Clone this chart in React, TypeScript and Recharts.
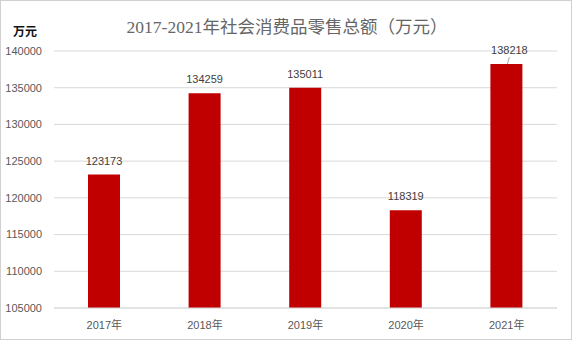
import React from "react";
import { BarChart, Bar, XAxis, YAxis, CartesianGrid, LabelList } from "recharts";

const years = ["2017年", "2018年", "2019年", "2020年", "2021年"];
const sales = [123173, 134259, 135011, 118319, 138218];
const yTicks = [105000, 110000, 115000, 120000, 125000, 130000, 135000, 140000];

const data = years.map((year, i) => ({ year, value: sales[i] }));

const FONT = '"Liberation Sans", "Noto Sans CJK SC", sans-serif';

// last label sits a bit higher in the original, with a small leader line
function ValueLabel(props: any) {
  const { x, y, width, value, index } = props;
  const cx = x + width / 2;
  if (index === data.length - 1) {
    return (
      <g>
        <line x1={cx + 3} y1={y - 7} x2={cx + 1} y2={y} stroke="#a6a6a6" strokeWidth={1} />
        <text x={cx + 3} y={y - 10} textAnchor="middle" fontSize={11} fill="#404040" fontFamily={FONT}>
          {value}
        </text>
      </g>
    );
  }
  return (
    <text x={cx} y={y - 10} textAnchor="middle" fontSize={11} fill="#404040" fontFamily={FONT}>
      {value}
    </text>
  );
}

export default function App() {
  return (
    <div style={{ position: "absolute", left: 0, top: 0, width: 574, height: 343, background: "#fff" }}>
      <div
        style={{
          position: "absolute",
          left: 0,
          top: 0,
          width: 570,
          height: 338,
          border: "1px solid #d0d0d0",
        }}
      />
      <div
        style={{
          position: "absolute",
          left: 0,
          width: 574,
          top: 13,
          textAlign: "center",
          fontSize: 17.5,
          color: "#666",
          fontFamily: '"Liberation Serif", "Noto Sans CJK SC", serif',
          paddingLeft: 0,
          boxSizing: "border-box",
        }}
      >
        2017-2021年社会消费品零售总额（万元）
      </div>
      <div
        style={{
          position: "absolute",
          left: 13,
          top: 22,
          fontSize: 12,
          fontWeight: 600,
          color: "#111",
          fontFamily: FONT,
        }}
      >
        万元
      </div>
      <div style={{ position: "absolute", left: 0, top: 0 }}>
        <BarChart
          width={574}
          height={343}
          data={data}
          margin={{ top: 51, right: 17, bottom: 5, left: 0 }}
          barCategoryGap={0}
        >
          <CartesianGrid vertical={false} stroke="#d9d9d9" />
          <XAxis
            dataKey="year"
            height={30}
            tickLine={false}
            axisLine={{ stroke: "#d9d9d9" }}
            tick={{ fontSize: 11, fill: "#595959", fontFamily: FONT }}
            tickMargin={7}
          />
          <YAxis
            width={54}
            domain={[105000, 140000]}
            ticks={yTicks}
            interval={0}
            tickLine={false}
            axisLine={false}
            tick={{ fontSize: 11, fill: "#595959", fontFamily: FONT }}
            tickMargin={6}
          />
          <Bar dataKey="value" fill="#c00000" barSize={32} isAnimationActive={false}>
            <LabelList dataKey="value" content={ValueLabel} />
          </Bar>
        </BarChart>
      </div>
    </div>
  );
}
